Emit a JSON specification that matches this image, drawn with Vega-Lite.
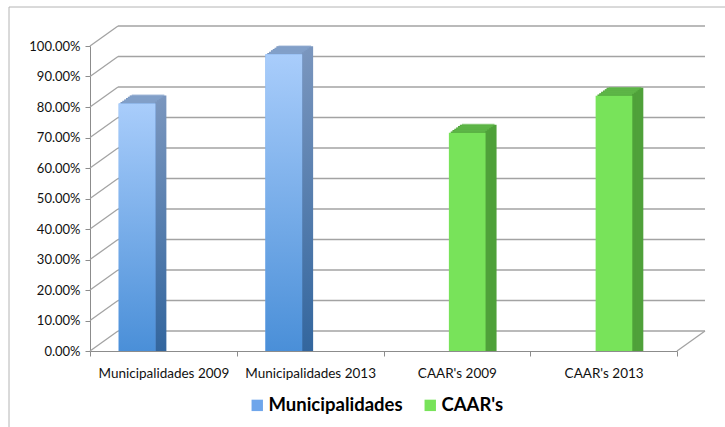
{
  "$schema": "https://vega.github.io/schema/vega-lite/v6.json",
  "width": 587,
  "height": 305,
  "autosize": {"type": "none"},
  "padding": {"left": 90, "top": 46, "right": 48, "bottom": 76},
  "background": "#ffffff",
  "datasets": {
    "bars": [
      {"category": "Municipalidades 2009", "series": "Municipalidades", "value": 0.792},
      {"category": "Municipalidades 2013", "series": "Municipalidades", "value": 0.953},
      {"category": "CAAR's 2009", "series": "CAAR's", "value": 0.696},
      {"category": "CAAR's 2013", "series": "CAAR's", "value": 0.817}
    ],
    "ticks": [
      {"v": 0}, {"v": 0.1}, {"v": 0.2}, {"v": 0.3}, {"v": 0.4}, {"v": 0.5},
      {"v": 0.6}, {"v": 0.7}, {"v": 0.8}, {"v": 0.9}, {"v": 1}
    ],
    "one": [{"k": 1}]
  },
  "resolve": {"scale": {"x": "independent"}, "axis": {"x": "independent"}},
  "layer": [
    {
      "layer": [
        {
          "data": {"name": "ticks"},
          "mark": {"type": "rule", "color": "#A3A3A3", "strokeWidth": 1.3, "xOffset": 28, "x2Offset": 28, "yOffset": -20},
          "encoding": {
            "y": {"field": "v", "type": "quantitative", "scale": {"domain": [0, 1], "nice": false}, "title": null},
            "x": {"datum": 0, "type": "quantitative", "scale": {"domain": [0, 1]}, "axis": null},
            "x2": {"datum": 1}
          }
        },
        {
          "data": {"name": "ticks"},
          "mark": {"type": "rule", "color": "#A3A3A3", "strokeWidth": 1.3, "x2Offset": 28, "y2Offset": -20},
          "encoding": {
            "y": {"field": "v", "type": "quantitative", "title": null},
            "y2": {"field": "v"},
            "x": {"datum": 0, "type": "quantitative", "axis": null},
            "x2": {"datum": 0}
          }
        },
        {
          "data": {"name": "one"},
          "mark": {"type": "rule", "color": "#A3A3A3", "strokeWidth": 1.3, "x2Offset": 28, "y2Offset": -20},
          "encoding": {
            "y": {"datum": 0, "type": "quantitative", "title": null},
            "y2": {"datum": 0},
            "x": {"datum": 1, "type": "quantitative", "axis": null},
            "x2": {"datum": 1}
          }
        },
        {
          "data": {"name": "one"},
          "mark": {"type": "rule", "color": "#B4B4B4", "strokeWidth": 1, "yOffset": -39, "xOffset": -81, "x2Offset": 60},
          "encoding": {
            "y": {"datum": 1, "type": "quantitative", "title": null},
            "x": {"datum": 0, "type": "quantitative", "axis": null},
            "x2": {"datum": 1}
          }
        },
        {
          "data": {"name": "one"},
          "mark": {"type": "rule", "color": "#B4B4B4", "strokeWidth": 1, "xOffset": -81, "yOffset": -39, "y2Offset": 80},
          "encoding": {
            "x": {"datum": 0, "type": "quantitative", "axis": null},
            "y": {"datum": 1, "type": "quantitative", "title": null},
            "y2": {"datum": 0}
          }
        }
      ]
    },
    {
      "data": {"name": "bars"},
      "resolve": {"scale": {"xOffset": "independent"}},
      "encoding": {
        "x": {"field": "category", "type": "nominal", "sort": null, "title": null, "scale": {"paddingInner": 0, "paddingOuter": 0}},
        "y": {"field": "value", "type": "quantitative", "stack": null, "title": null}
      },
      "layer": [
        {"mark": {"type": "bar", "yOffset": -14, "y2Offset": -14},
         "encoding": {"xOffset": {"field": "series", "type": "nominal", "scale": {"domain": ["Municipalidades", "CAAR's"], "range": [3, 149.75], "paddingInner": 0, "paddingOuter": 1.25}},
           "fill": {"condition": {"test": "datum.series === 'Municipalidades'", "value": {"gradient": "linear", "x1": 0, "y1": 0, "x2": 0, "y2": 1, "stops": [{"offset": 0, "color": "#7A96BE"}, {"offset": 1, "color": "#33669E"}]}}, "value": "#4FA13A"}}},
        {"mark": {"type": "bar", "yOffset": -12.67, "y2Offset": -12.67},
         "encoding": {"xOffset": {"field": "series", "type": "nominal", "scale": {"domain": ["Municipalidades", "CAAR's"], "range": [1.17, 147.92], "paddingInner": 0, "paddingOuter": 1.25}},
           "fill": {"condition": {"test": "datum.series === 'Municipalidades'", "value": {"gradient": "linear", "x1": 0, "y1": 0, "x2": 0, "y2": 1, "stops": [{"offset": 0, "color": "#7A96BE"}, {"offset": 1, "color": "#33669E"}]}}, "value": "#4FA13A"}}},
        {"mark": {"type": "bar", "yOffset": -11.33, "y2Offset": -11.33},
         "encoding": {"xOffset": {"field": "series", "type": "nominal", "scale": {"domain": ["Municipalidades", "CAAR's"], "range": [-0.67, 146.08], "paddingInner": 0, "paddingOuter": 1.25}},
           "fill": {"condition": {"test": "datum.series === 'Municipalidades'", "value": {"gradient": "linear", "x1": 0, "y1": 0, "x2": 0, "y2": 1, "stops": [{"offset": 0, "color": "#7A96BE"}, {"offset": 1, "color": "#33669E"}]}}, "value": "#4FA13A"}}},
        {"mark": {"type": "bar", "yOffset": -10, "y2Offset": -10},
         "encoding": {"xOffset": {"field": "series", "type": "nominal", "scale": {"domain": ["Municipalidades", "CAAR's"], "range": [-2.5, 144.25], "paddingInner": 0, "paddingOuter": 1.25}},
           "fill": {"condition": {"test": "datum.series === 'Municipalidades'", "value": {"gradient": "linear", "x1": 0, "y1": 0, "x2": 0, "y2": 1, "stops": [{"offset": 0, "color": "#7A96BE"}, {"offset": 1, "color": "#33669E"}]}}, "value": "#4FA13A"}}},
        {"mark": {"type": "bar", "yOffset": -8.67, "y2Offset": -8.67},
         "encoding": {"xOffset": {"field": "series", "type": "nominal", "scale": {"domain": ["Municipalidades", "CAAR's"], "range": [-4.33, 142.42], "paddingInner": 0, "paddingOuter": 1.25}},
           "fill": {"condition": {"test": "datum.series === 'Municipalidades'", "value": {"gradient": "linear", "x1": 0, "y1": 0, "x2": 0, "y2": 1, "stops": [{"offset": 0, "color": "#7A96BE"}, {"offset": 1, "color": "#33669E"}]}}, "value": "#4FA13A"}}},
        {"mark": {"type": "bar", "yOffset": -7.33, "y2Offset": -7.33},
         "encoding": {"xOffset": {"field": "series", "type": "nominal", "scale": {"domain": ["Municipalidades", "CAAR's"], "range": [-6.17, 140.58], "paddingInner": 0, "paddingOuter": 1.25}},
           "fill": {"condition": {"test": "datum.series === 'Municipalidades'", "value": {"gradient": "linear", "x1": 0, "y1": 0, "x2": 0, "y2": 1, "stops": [{"offset": 0, "color": "#7A96BE"}, {"offset": 1, "color": "#33669E"}]}}, "value": "#4FA13A"}}},
        {"mark": {"type": "tick", "orient": "horizontal", "thickness": 1.8, "size": 32.6, "yOffset": -14},
         "encoding": {"xOffset": {"field": "series", "type": "nominal", "scale": {"domain": ["Municipalidades", "CAAR's"], "range": [3, 149.75], "paddingInner": 0, "paddingOuter": 1.25}},
           "color": {"condition": {"test": "datum.series === 'Municipalidades'", "value": "#84A2CC"}, "value": "#62BA4B"}}},
        {"mark": {"type": "tick", "orient": "horizontal", "thickness": 1.8, "size": 32.6, "yOffset": -12.67},
         "encoding": {"xOffset": {"field": "series", "type": "nominal", "scale": {"domain": ["Municipalidades", "CAAR's"], "range": [1.17, 147.92], "paddingInner": 0, "paddingOuter": 1.25}},
           "color": {"condition": {"test": "datum.series === 'Municipalidades'", "value": "#84A2CC"}, "value": "#62BA4B"}}},
        {"mark": {"type": "tick", "orient": "horizontal", "thickness": 1.8, "size": 32.6, "yOffset": -11.33},
         "encoding": {"xOffset": {"field": "series", "type": "nominal", "scale": {"domain": ["Municipalidades", "CAAR's"], "range": [-0.67, 146.08], "paddingInner": 0, "paddingOuter": 1.25}},
           "color": {"condition": {"test": "datum.series === 'Municipalidades'", "value": "#84A2CC"}, "value": "#62BA4B"}}},
        {"mark": {"type": "tick", "orient": "horizontal", "thickness": 1.8, "size": 32.6, "yOffset": -10},
         "encoding": {"xOffset": {"field": "series", "type": "nominal", "scale": {"domain": ["Municipalidades", "CAAR's"], "range": [-2.5, 144.25], "paddingInner": 0, "paddingOuter": 1.25}},
           "color": {"condition": {"test": "datum.series === 'Municipalidades'", "value": "#84A2CC"}, "value": "#62BA4B"}}},
        {"mark": {"type": "tick", "orient": "horizontal", "thickness": 1.8, "size": 32.6, "yOffset": -8.67},
         "encoding": {"xOffset": {"field": "series", "type": "nominal", "scale": {"domain": ["Municipalidades", "CAAR's"], "range": [-4.33, 142.42], "paddingInner": 0, "paddingOuter": 1.25}},
           "color": {"condition": {"test": "datum.series === 'Municipalidades'", "value": "#84A2CC"}, "value": "#62BA4B"}}},
        {"mark": {"type": "tick", "orient": "horizontal", "thickness": 1.8, "size": 32.6, "yOffset": -7.33},
         "encoding": {"xOffset": {"field": "series", "type": "nominal", "scale": {"domain": ["Municipalidades", "CAAR's"], "range": [-6.17, 140.58], "paddingInner": 0, "paddingOuter": 1.25}},
           "color": {"condition": {"test": "datum.series === 'Municipalidades'", "value": "#84A2CC"}, "value": "#62BA4B"}}},
        {"mark": {"type": "bar", "yOffset": -6, "y2Offset": -6},
         "encoding": {"xOffset": {"field": "series", "type": "nominal", "scale": {"domain": ["Municipalidades", "CAAR's"], "range": [-8, 138.75], "paddingInner": 0, "paddingOuter": 1.25}},
           "color": {"field": "series", "type": "nominal", "scale": {"domain": ["Municipalidades", "CAAR's"], "range": ["#6FA6EB", "#78E35A"]},
           "legend": {"title": null, "orient": "none", "legendX": 158, "legendY": 350, "direction": "horizontal", "symbolType": "square", "symbolSize": 130, "symbolStrokeWidth": 0, "labelFont": "Lato", "labelFontSize": 18.5, "labelFontWeight": "bold", "labelColor": "#000000", "columnPadding": 18, "labelOffset": 2}}}},
        {"transform": [{"filter": "datum.series === 'Municipalidades'"}],
         "mark": {"type": "bar", "yOffset": -6, "y2Offset": -6, "fill": {"gradient": "linear", "x1": 0, "y1": 0, "x2": 0, "y2": 1, "stops": [{"offset": 0, "color": "#A9CDFB"}, {"offset": 1, "color": "#4A8FD8"}]}},
         "encoding": {"xOffset": {"field": "series", "type": "nominal", "scale": {"domain": ["Municipalidades", "CAAR's"], "range": [-8, 138.75], "paddingInner": 0, "paddingOuter": 1.25}}}}
      ]
    }
  ],
  "config": {
    "view": {"stroke": null},
    "font": "Lato",
    "axisY": {"grid": false, "domainColor": "#8C8C8C", "tickColor": "#8C8C8C", "tickSize": 5, "labelPadding": 5, "labelFont": "Lato", "labelFontSize": 13, "labelColor": "#111111", "format": ".2%", "tickCount": 10, "title": null},
    "axisX": {"grid": false, "domainColor": "#8C8C8C", "tickColor": "#8C8C8C", "tickSize": 5, "tickBand": "extent", "labelPadding": 10, "labelFont": "Lato", "labelFontSize": 13.5, "labelColor": "#111111", "labelAngle": 0, "title": null}
  }
}
